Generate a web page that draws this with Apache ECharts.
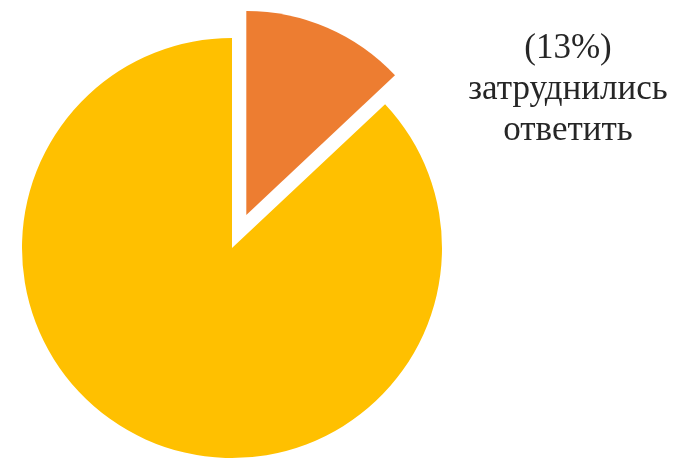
<!DOCTYPE html>
<html>
<head>
<meta charset="utf-8">
<script src="https://cdn.jsdelivr.net/npm/echarts@6/dist/echarts.min.js"></script>
<style>html,body{margin:0;padding:0;background:#fff;}#c{width:680px;height:460px;}</style>
</head>
<body>
<div id="c"></div>
<script>
var categories = ['затруднились\nответить', 'другие ответы'];
var values = [13, 87];
var colors = ['#ED7D31', '#FFC000'];

function makeData(visibleIndex, selectIndex) {
  return categories.map(function (c, i) {
    return {
      name: c,
      value: values[i],
      selected: i === selectIndex,
      itemStyle: { color: i === visibleIndex ? colors[i] : 'rgba(0,0,0,0)' }
    };
  });
}

var base = {
  type: 'pie',
  center: [232, 248],
  startAngle: 90,
  clockwise: true,
  selectedMode: 'single',
  selectedOffset: 36,
  emphasis: { disabled: true },
  label: { show: false },
  labelLine: { show: false },
  silent: true
};

var chart = echarts.init(document.getElementById('c'));
chart.setOption({
  animation: false,
  title: {
    text: '(' + values[0] + '%)\n' + categories[0],
    left: 563,
    top: 23,
    textAlign: 'center',
    textStyle: {
      fontFamily: 'Liberation Serif',
      fontSize: 35,
      lineHeight: 41,
      fontWeight: 'normal',
      color: '#262626'
    }
  },
  series: [
    Object.assign({}, base, { radius: 210, data: makeData(1, -1) }),
    Object.assign({}, base, { radius: 204, data: makeData(0, 0) })
  ]
});
</script>
</body>
</html>
